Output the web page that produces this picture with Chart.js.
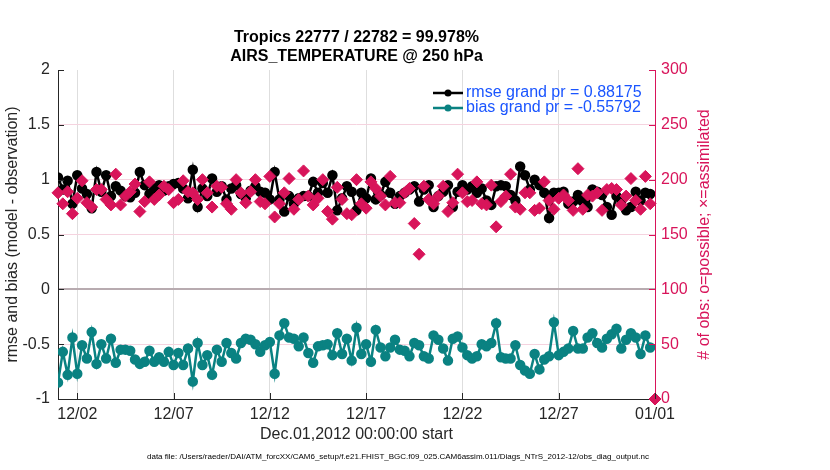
<!doctype html>
<html lang="en">
<head>
  <meta charset="utf-8">
  <title>Tropics AIRS_TEMPERATURE @ 250 hPa</title>
  <script src="https://cdn.jsdelivr.net/npm/chart.js"></script>
  <style>
    body { margin: 0; background: #fff; }
    #wrap { width: 830px; height: 470px; }
  </style>
</head>
<body>
<div id="wrap"><canvas id="obsChart" width="830" height="470"></canvas></div>
<script>
  // 6-hourly values, starting Dec.01,2012 00:00
  var stepDays = 0.25;

  var rmse = [
    1.02,0.91,0.99,0.78,1.04,0.92,0.87,0.74,1.07,0.89,1.04,0.85,0.94,0.90,0.85,0.84,0.88,1.07,0.95,0.87,0.92,0.95,
    0.90,0.94,0.96,0.97,0.92,0.83,1.09,0.75,0.92,0.85,1.01,0.89,0.94,0.82,0.92,0.95,0.87,0.83,0.90,0.94,
    0.89,0.88,0.82,1.07,0.82,0.71,0.85,0.78,0.83,0.85,0.85,0.98,0.88,0.97,0.88,1.04,0.72,0.83,0.94,0.89,
    0.72,0.88,0.83,1.01,0.82,0.86,0.98,0.88,0.78,0.85,0.88,0.91,0.94,0.80,0.91,0.95,0.75,0.85,0.89,0.95,
    0.75,0.89,0.95,0.91,0.94,0.88,0.92,0.81,0.77,0.94,0.95,0.94,0.86,0.81,1.12,1.04,0.91,1.00,0.95,0.88,
    0.65,0.88,0.88,0.89,0.78,0.80,0.86,0.80,0.75,0.91,0.89,0.86,0.75,0.68,0.85,0.81,0.72,0.75,0.89,0.81,
    0.88,0.87
  ];

  var bias = [
    -0.85,-0.57,-0.78,-0.44,-0.77,-0.51,-0.63,-0.39,-0.68,-0.50,-0.63,-0.45,-0.67,-0.55,-0.55,-0.56,-0.64,-0.68,-0.66,-0.56,-0.66,-0.62,
    -0.66,-0.57,-0.69,-0.58,-0.69,-0.54,-0.84,-0.49,-0.69,-0.60,-0.78,-0.55,-0.66,-0.49,-0.58,-0.63,-0.49,-0.45,-0.46,-0.50,-0.57,
    -0.51,-0.48,-0.77,-0.42,-0.31,-0.44,-0.45,-0.52,-0.44,-0.58,-0.67,-0.52,-0.51,-0.50,-0.60,-0.40,-0.59,-0.45,-0.65,-0.35,
    -0.59,-0.50,-0.66,-0.37,-0.53,-0.61,-0.53,-0.46,-0.55,-0.56,-0.61,-0.49,-0.51,-0.61,-0.63,-0.42,-0.46,-0.54,-0.65,-0.45,-0.43,
    -0.53,-0.60,-0.63,-0.61,-0.50,-0.52,-0.49,-0.31,-0.62,-0.63,-0.63,-0.51,-0.69,-0.74,-0.77,-0.59,-0.73,-0.64,-0.61,-0.30,
    -0.60,-0.57,-0.54,-0.38,-0.54,-0.54,-0.44,-0.40,-0.49,-0.53,-0.45,-0.41,-0.36,-0.54,-0.46,-0.40,-0.44,-0.59,-0.42,-0.53
  ];

  var obsCount = [
    188,178,189,169,183,199,179,175,191,191,182,177,205,177,185,189,196,171,180,198,182,186,194,191,179,182,199,189,188,182,
    200,188,175,194,193,178,173,200,188,179,189,200,180,178,203,
    166,178,188,201,173,182,208,185,177,183,200,171,164,193,182,169,168,200,178,174,198,192,185,177,203,179,179,188,192,160,
    132,194,182,178,185,194,171,179,205,
    188,180,181,198,178,177,195,157,180,185,205,175,173,188,188,172,174,198,181,173,183,186,181,172,210,173,186,185,188,172,
    191,192,191,177,185,201,181,173,203,178,0
  ];

  var xTickDays = [1, 6, 11, 16, 21, 26, 31];
  var xTickLabels = ['12/02','12/07','12/12','12/17','12/22','12/27','01/01'];

  var titleLines = ['Tropics 22777 / 22782 = 99.978%', 'AIRS_TEMPERATURE @ 250 hPa'];
  var xTitle = 'Dec.01,2012 00:00:00 start';
  var yTitle = 'rmse and bias (model - observation)';
  var y2Title = '# of obs: o=possible; \u00d7=assimilated';
  var footer = 'data file: /Users/raeder/DAI/ATM_forcXX/CAM6_setup/f.e21.FHIST_BGC.f09_025.CAM6assim.011/Diags_NTrS_2012-12/obs_diag_output.nc';
  var legendLabels = ['rmse grand pr = 0.88175', 'bias grand pr = -0.55792'];

  var FONT = '"Liberation Sans", Arial, Helvetica, sans-serif';
  var INK = '#262626';
  var CRIMSON = '#d8145a';
  var TEAL = '#0a8282';
  var BLUE = '#1a55ff';

  function pts(arr) {
    return arr.map(function (v, i) { return { x: i * stepDays, y: v }; });
  }

  var annot = {
    id: 'annot',
    afterDraw: function (chart) {
      var c = chart.ctx, a = chart.chartArea;
      var sx = chart.scales.x, yl = chart.scales.y, yr = chart.scales.yObs;
      c.save();
      // inward tick marks (matlab style)
      c.lineWidth = 1;
      c.strokeStyle = INK;
      yl.ticks.forEach(function (t) {
        var y = Math.round(yl.getPixelForValue(t.value)) + 0.5;
        c.beginPath(); c.moveTo(a.left, y); c.lineTo(a.left + 6, y); c.stroke();
      });
      sx.ticks.forEach(function (t) {
        var x = Math.round(sx.getPixelForValue(t.value)) + 0.5;
        c.beginPath(); c.moveTo(x, a.bottom); c.lineTo(x, a.bottom - 6); c.stroke();
      });
      c.strokeStyle = CRIMSON;
      yr.ticks.forEach(function (t) {
        var y = Math.round(yr.getPixelForValue(t.value)) + 0.5;
        c.beginPath(); c.moveTo(a.right - 6, y); c.lineTo(a.right, y); c.stroke();
      });

      var cx = (a.left + a.right) / 2, cy = (a.top + a.bottom) / 2;
      c.textAlign = 'center';
      c.textBaseline = 'middle';
      c.fillStyle = '#000';
      c.font = 'bold 16px ' + FONT;
      c.fillText(titleLines[0], cx, 38);
      c.fillText(titleLines[1], cx, 57);

      c.fillStyle = INK;
      c.font = '16px ' + FONT;
      c.fillText(xTitle, cx, 435);

      c.save();
      c.translate(13, cy);
      c.rotate(-Math.PI / 2);
      c.fillText(yTitle, 0, 0);
      c.restore();

      c.save();
      c.fillStyle = CRIMSON;
      c.translate(705, cy);
      c.rotate(-Math.PI / 2);
      c.fillText(y2Title, 0, 0);
      c.restore();

      c.textAlign = 'left';
      c.fillStyle = '#000';
      c.font = '8px ' + FONT;
      c.fillText(footer, 147, 457);

      // legend, inside the axes, no box
      var colors = ['#000', TEAL];
      legendLabels.forEach(function (lab, k) {
        var y = 93 + k * 15;
        c.strokeStyle = colors[k];
        c.fillStyle = colors[k];
        c.lineWidth = 2.5;
        c.beginPath(); c.moveTo(433, y); c.lineTo(463, y); c.stroke();
        c.beginPath(); c.arc(448, y, 3.5, 0, Math.PI * 2); c.fill();
        c.fillStyle = BLUE;
        c.font = '16px ' + FONT;
        c.fillText(lab, 466, y);
      });
      c.restore();
    }
  };

  var config = {
    type: 'scatter',
    data: {
      datasets: [
        {
          label: 'obs',
          data: pts(obsCount),
          yAxisID: 'yObs',
          showLine: false,
          pointStyle: 'rectRot',
          pointRadius: 6,
          pointHoverRadius: 6,
          backgroundColor: CRIMSON,
          borderColor: CRIMSON,
          borderWidth: 1,
          clip: false,
          order: 0
        },
        {
          label: legendLabels[0],
          data: pts(rmse),
          yAxisID: 'y',
          showLine: true,
          borderColor: '#000',
          backgroundColor: '#000',
          borderWidth: 2.5,
          pointRadius: 4,
          pointHoverRadius: 4,
          order: 1
        },
        {
          label: legendLabels[1],
          data: pts(bias),
          yAxisID: 'y',
          showLine: true,
          borderColor: TEAL,
          backgroundColor: TEAL,
          borderWidth: 2.5,
          pointRadius: 4,
          pointHoverRadius: 4,
          order: 2
        }
      ]
    },
    options: {
      responsive: false,
      animation: false,
      layout: { padding: { top: 70, left: 0, right: 0, bottom: 0 } },
      plugins: {
        legend: { display: false },
        tooltip: { enabled: false },
        title: { display: false }
      },
      scales: {
        x: {
          type: 'linear',
          min: 0,
          max: 31,
          afterBuildTicks: function (s) { s.ticks = xTickDays.map(function (v) { return { value: v }; }); },
          afterFit: function (s) { s.height = 71; },
          ticks: {
            autoSkip: false,
            maxRotation: 0,
            padding: 6,
            color: INK,
            font: { family: FONT, size: 16 },
            callback: function (v) { var k = xTickDays.indexOf(v); return k < 0 ? '' : xTickLabels[k]; }
          },
          grid: {
            drawTicks: false,
            color: function (ctx) { return ctx.tick && ctx.tick.value === 31 ? 'rgba(0,0,0,0)' : '#dedede'; },
            lineWidth: 1
          },
          border: { color: INK, width: 1 }
        },
        y: {
          position: 'left',
          min: -1,
          max: 2,
          afterFit: function (s) { s.width = 58; },
          ticks: {
            stepSize: 0.5,
            padding: 8,
            color: INK,
            font: { family: FONT, size: 16 },
            callback: function (v) { return String(Math.round(v * 10) / 10); }
          },
          grid: {
            drawTicks: false,
            color: function (ctx) { return ctx.tick && ctx.tick.value === 0 ? '#b8abb0' : 'rgba(0,0,0,0)'; },
            lineWidth: function (ctx) { return ctx.tick && ctx.tick.value === 0 ? 2 : 1; }
          },
          border: { color: INK, width: 1 }
        },
        yObs: {
          position: 'right',
          min: 0,
          max: 300,
          afterFit: function (s) { s.width = 175; },
          ticks: {
            stepSize: 50,
            padding: 6,
            color: CRIMSON,
            font: { family: FONT, size: 16 }
          },
          grid: {
            drawTicks: false,
            color: function (ctx) {
              var v = ctx.tick ? ctx.tick.value : 0;
              return (v === 0 || v === 100 || v === 300) ? 'rgba(0,0,0,0)' : '#f5d3df';
            },
            lineWidth: 1
          },
          border: { color: CRIMSON, width: 1 }
        }
      }
    },
    plugins: [annot]
  };

  new Chart(document.getElementById('obsChart'), config);
</script>
</body>
</html>
